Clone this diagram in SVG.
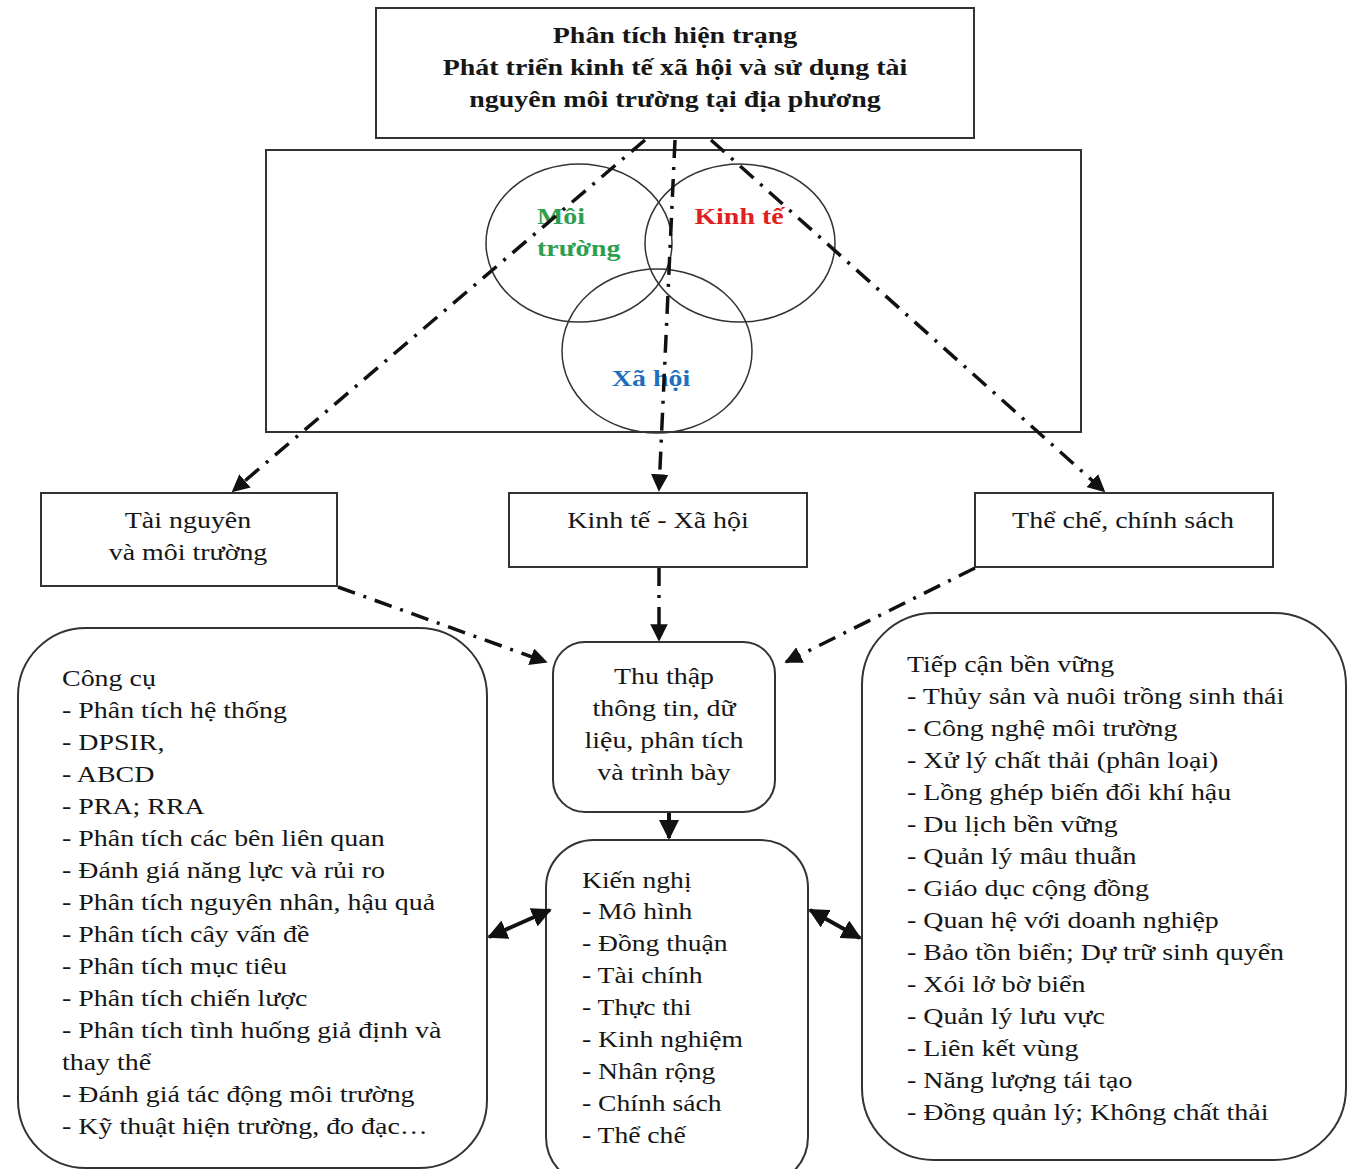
<svg xmlns="http://www.w3.org/2000/svg" width="1349" height="1169" viewBox="0 0 1349 1169">
<defs>
<style>
text{font-family:"Liberation Serif","Times New Roman",serif;fill:#161616;}
.t{font-size:23px;}
.b{font-size:23px;font-weight:bold;}
.c{text-anchor:middle;}
.box{fill:#fff;stroke:#333;stroke-width:2;}
.circ{fill:none;stroke:#333;stroke-width:1.5;}
.dd{fill:none;stroke:#111;stroke-width:3.5;stroke-dasharray:18 9 3 9;}
.thick{fill:none;stroke:#111;stroke-width:4;}
</style>
<marker id="ah" viewBox="0 0 10 10" refX="9" refY="5" markerWidth="5" markerHeight="5" orient="auto" markerUnits="strokeWidth">
<path d="M0,0 L10,5 L0,10 z" fill="#111"/>
</marker>
<marker id="ah2" viewBox="0 0 10 10" refX="9" refY="5" markerWidth="5" markerHeight="5" orient="auto-start-reverse" markerUnits="strokeWidth">
<path d="M0,0 L10,5 L0,10 z" fill="#111"/>
</marker>
</defs>
<rect width="1349" height="1169" fill="#fff"/>

<g id="top">
<rect class="box" x="376" y="8" width="598" height="130"/>
<g transform="translate(675,0) scale(1.215,1)">
<text class="b c" x="0" y="43">Phân tích hiện trạng</text>
<text class="b c" x="0" y="75">Phát triển kinh tế xã hội và sử dụng tài</text>
<text class="b c" x="0" y="107">nguyên môi trường tại địa phương</text>
</g>
</g>

<g id="venn">
<rect class="box" x="266" y="150" width="815" height="282"/>
<ellipse class="circ" cx="579" cy="243" rx="93" ry="79"/>
<ellipse class="circ" cx="740" cy="243" rx="95" ry="79"/>
<ellipse class="circ" cx="657" cy="351" rx="95" ry="82"/>
<g transform="translate(537,0) scale(1.215,1)">
<text class="b" x="0" y="224" style="fill:#2e9e4f">Môi</text>
<text class="b" x="0" y="256" style="fill:#2e9e4f">trường</text>
</g>
<g transform="translate(739,0) scale(1.215,1)">
<text class="b c" x="0" y="224" style="fill:#e02020">Kinh tế</text>
</g>
<g transform="translate(651,0) scale(1.215,1)">
<text class="b c" x="0" y="386" style="fill:#1f6fc0">Xã hội</text>
</g>
</g>

<g id="tainguyen">
<rect class="box" x="41" y="493" width="296" height="93"/>
<g transform="translate(188,0) scale(1.215,1)">
<text class="t c" x="0" y="528">Tài nguyên</text>
<text class="t c" x="0" y="560">và môi trường</text>
</g>
</g>

<g id="kinhte-xahoi">
<rect class="box" x="509" y="493" width="298" height="74"/>
<g transform="translate(658,0) scale(1.215,1)">
<text class="t c" x="0" y="528">Kinh tế - Xã hội</text>
</g>
</g>

<g id="thoche">
<rect class="box" x="975" y="493" width="298" height="74"/>
<g transform="translate(1123,0) scale(1.215,1)">
<text class="t c" x="0" y="528">Thể chế, chính sách</text>
</g>
</g>

<g id="thuthap">
<rect class="box" x="553" y="642" width="222" height="170" rx="32"/>
<g transform="translate(664,0) scale(1.215,1)">
<text class="t c" x="0" y="684">Thu thập</text>
<text class="t c" x="0" y="716">thông tin, dữ</text>
<text class="t c" x="0" y="748">liệu, phân tích</text>
<text class="t c" x="0" y="780">và trình bày</text>
</g>
</g>

<g id="kiennghi">
<rect class="box" x="546" y="840" width="262" height="345" rx="48"/>
<g transform="translate(582,0) scale(1.2,1)">
<text class="t" x="0" y="888">Kiến nghị</text>
<text class="t" x="0" y="919">- Mô hình</text>
<text class="t" x="0" y="951">- Đồng thuận</text>
<text class="t" x="0" y="983">- Tài  chính</text>
<text class="t" x="0" y="1015">- Thực thi</text>
<text class="t" x="0" y="1047">- Kinh nghiệm</text>
<text class="t" x="0" y="1079">- Nhân rộng</text>
<text class="t" x="0" y="1111">- Chính sách</text>
<text class="t" x="0" y="1143">- Thể chế</text>
</g>
</g>

<g id="congcu">
<rect class="box" x="18" y="628" width="469" height="540" rx="68"/>
<g transform="translate(62,0) scale(1.215,1)">
<text class="t" x="0" y="686">Công cụ</text>
<text class="t" x="0" y="718">- Phân tích hệ thống</text>
<text class="t" x="0" y="750">- DPSIR,</text>
<text class="t" x="0" y="782">- ABCD</text>
<text class="t" x="0" y="814">- PRA; RRA</text>
<text class="t" x="0" y="846">- Phân tích các bên liên quan</text>
<text class="t" x="0" y="878">- Đánh giá năng lực và rủi ro</text>
<text class="t" x="0" y="910">- Phân tích nguyên nhân, hậu quả</text>
<text class="t" x="0" y="942">- Phân tích cây vấn đề</text>
<text class="t" x="0" y="974">- Phân tích mục tiêu</text>
<text class="t" x="0" y="1006">- Phân tích chiến lược</text>
<text class="t" x="0" y="1038">- Phân tích tình huống giả định và</text>
<text class="t" x="0" y="1070">thay thể</text>
<text class="t" x="0" y="1102">- Đánh giá tác động môi trường</text>
<text class="t" x="0" y="1134">- Kỹ thuật hiện trường, đo đạc…</text>
</g>
</g>

<g id="tiepcan">
<rect class="box" x="862" y="613" width="484" height="547" rx="72"/>
<g transform="translate(907,0) scale(1.215,1)">
<text class="t" x="0" y="672">Tiếp cận bền vững</text>
<text class="t" x="0" y="704">- Thủy sản và nuôi trồng sinh thái</text>
<text class="t" x="0" y="736">- Công nghệ môi trường</text>
<text class="t" x="0" y="768">- Xử lý chất thải (phân loại)</text>
<text class="t" x="0" y="800">- Lồng ghép biến đổi khí hậu</text>
<text class="t" x="0" y="832">- Du lịch bền vững</text>
<text class="t" x="0" y="864">- Quản lý mâu thuẫn</text>
<text class="t" x="0" y="896">- Giáo dục cộng đồng</text>
<text class="t" x="0" y="928">- Quan hệ với doanh nghiệp</text>
<text class="t" x="0" y="960">- Bảo tồn biển; Dự trữ sinh  quyển</text>
<text class="t" x="0" y="992">- Xói lở bờ biển</text>
<text class="t" x="0" y="1024">- Quản lý lưu vực</text>
<text class="t" x="0" y="1056">- Liên kết vùng</text>
<text class="t" x="0" y="1088">- Năng lượng tái tạo</text>
<text class="t" x="0" y="1120">- Đồng quản lý; Không chất thải</text>
</g>
</g>

<g id="connectors">
<path class="dd" d="M645,140 L233,491" marker-end="url(#ah)"/>
<path class="dd" d="M675,140 L659,490" marker-end="url(#ah)"/>
<path class="dd" d="M711,140 L1104,491" marker-end="url(#ah)"/>
<path class="dd" d="M338,587 L546,662" marker-end="url(#ah)"/>
<path class="dd" d="M659,568 L659,640" marker-end="url(#ah)"/>
<path class="dd" d="M975,568 L786,662" marker-end="url(#ah)"/>
<path class="thick" d="M669,813 L669,838" marker-end="url(#ah)"/>
<path class="thick" d="M489,937 L550,910" marker-start="url(#ah2)" marker-end="url(#ah2)"/>
<path class="thick" d="M810,910 L860,938" marker-start="url(#ah2)" marker-end="url(#ah2)"/>
</g>
</svg>
